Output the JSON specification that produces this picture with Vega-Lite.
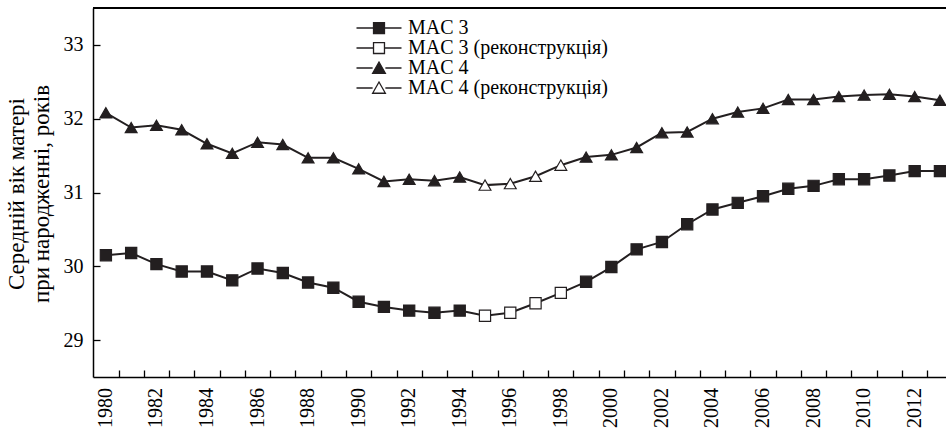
{
  "$schema": "https://vega.github.io/schema/vega-lite/v6.json",
  "width": 853,
  "height": 369,
  "autosize": "none",
  "padding": {"left": 93, "top": 8, "right": 0, "bottom": 55},
  "background": "white",
  "config": {
    "view": {"stroke": null},
    "font": "Liberation Serif",
    "axis": {"grid": false, "domainColor": "black", "domainWidth": 1.5, "tickColor": "black", "tickWidth": 1.3, "labelColor": "black", "labelFont": "Liberation Serif", "labelFontSize": 20, "titleFont": "Liberation Serif", "titleColor": "black", "labelOverlap": false, "labelFlush": false, "tickSize": -7},
    "axisY": {"labelPadding": 17}
  },
  "data": {"values": [
    {"year": 1980, "value": 30.15, "series": "MAC 3", "group": "MAC 3"},
    {"year": 1981, "value": 30.18, "series": "MAC 3", "group": "MAC 3"},
    {"year": 1982, "value": 30.03, "series": "MAC 3", "group": "MAC 3"},
    {"year": 1983, "value": 29.93, "series": "MAC 3", "group": "MAC 3"},
    {"year": 1984, "value": 29.93, "series": "MAC 3", "group": "MAC 3"},
    {"year": 1985, "value": 29.81, "series": "MAC 3", "group": "MAC 3"},
    {"year": 1986, "value": 29.97, "series": "MAC 3", "group": "MAC 3"},
    {"year": 1987, "value": 29.91, "series": "MAC 3", "group": "MAC 3"},
    {"year": 1988, "value": 29.78, "series": "MAC 3", "group": "MAC 3"},
    {"year": 1989, "value": 29.71, "series": "MAC 3", "group": "MAC 3"},
    {"year": 1990, "value": 29.52, "series": "MAC 3", "group": "MAC 3"},
    {"year": 1991, "value": 29.45, "series": "MAC 3", "group": "MAC 3"},
    {"year": 1992, "value": 29.40, "series": "MAC 3", "group": "MAC 3"},
    {"year": 1993, "value": 29.37, "series": "MAC 3", "group": "MAC 3"},
    {"year": 1994, "value": 29.40, "series": "MAC 3", "group": "MAC 3"},
    {"year": 1995, "value": 29.33, "series": "MAC 3 (реконструкція)", "group": "MAC 3"},
    {"year": 1996, "value": 29.37, "series": "MAC 3 (реконструкція)", "group": "MAC 3"},
    {"year": 1997, "value": 29.50, "series": "MAC 3 (реконструкція)", "group": "MAC 3"},
    {"year": 1998, "value": 29.64, "series": "MAC 3 (реконструкція)", "group": "MAC 3"},
    {"year": 1999, "value": 29.79, "series": "MAC 3", "group": "MAC 3"},
    {"year": 2000, "value": 29.99, "series": "MAC 3", "group": "MAC 3"},
    {"year": 2001, "value": 30.23, "series": "MAC 3", "group": "MAC 3"},
    {"year": 2002, "value": 30.33, "series": "MAC 3", "group": "MAC 3"},
    {"year": 2003, "value": 30.57, "series": "MAC 3", "group": "MAC 3"},
    {"year": 2004, "value": 30.77, "series": "MAC 3", "group": "MAC 3"},
    {"year": 2005, "value": 30.86, "series": "MAC 3", "group": "MAC 3"},
    {"year": 2006, "value": 30.95, "series": "MAC 3", "group": "MAC 3"},
    {"year": 2007, "value": 31.05, "series": "MAC 3", "group": "MAC 3"},
    {"year": 2008, "value": 31.09, "series": "MAC 3", "group": "MAC 3"},
    {"year": 2009, "value": 31.18, "series": "MAC 3", "group": "MAC 3"},
    {"year": 2010, "value": 31.18, "series": "MAC 3", "group": "MAC 3"},
    {"year": 2011, "value": 31.23, "series": "MAC 3", "group": "MAC 3"},
    {"year": 2012, "value": 31.29, "series": "MAC 3", "group": "MAC 3"},
    {"year": 2013, "value": 31.29, "series": "MAC 3", "group": "MAC 3"},
    {"year": 1980, "value": 32.08, "series": "MAC 4", "group": "MAC 4"},
    {"year": 1981, "value": 31.88, "series": "MAC 4", "group": "MAC 4"},
    {"year": 1982, "value": 31.91, "series": "MAC 4", "group": "MAC 4"},
    {"year": 1983, "value": 31.85, "series": "MAC 4", "group": "MAC 4"},
    {"year": 1984, "value": 31.66, "series": "MAC 4", "group": "MAC 4"},
    {"year": 1985, "value": 31.53, "series": "MAC 4", "group": "MAC 4"},
    {"year": 1986, "value": 31.68, "series": "MAC 4", "group": "MAC 4"},
    {"year": 1987, "value": 31.65, "series": "MAC 4", "group": "MAC 4"},
    {"year": 1988, "value": 31.47, "series": "MAC 4", "group": "MAC 4"},
    {"year": 1989, "value": 31.47, "series": "MAC 4", "group": "MAC 4"},
    {"year": 1990, "value": 31.32, "series": "MAC 4", "group": "MAC 4"},
    {"year": 1991, "value": 31.15, "series": "MAC 4", "group": "MAC 4"},
    {"year": 1992, "value": 31.18, "series": "MAC 4", "group": "MAC 4"},
    {"year": 1993, "value": 31.16, "series": "MAC 4", "group": "MAC 4"},
    {"year": 1994, "value": 31.21, "series": "MAC 4", "group": "MAC 4"},
    {"year": 1995, "value": 31.10, "series": "MAC 4 (реконструкція)", "group": "MAC 4"},
    {"year": 1996, "value": 31.12, "series": "MAC 4 (реконструкція)", "group": "MAC 4"},
    {"year": 1997, "value": 31.22, "series": "MAC 4 (реконструкція)", "group": "MAC 4"},
    {"year": 1998, "value": 31.37, "series": "MAC 4 (реконструкція)", "group": "MAC 4"},
    {"year": 1999, "value": 31.48, "series": "MAC 4", "group": "MAC 4"},
    {"year": 2000, "value": 31.51, "series": "MAC 4", "group": "MAC 4"},
    {"year": 2001, "value": 31.61, "series": "MAC 4", "group": "MAC 4"},
    {"year": 2002, "value": 31.81, "series": "MAC 4", "group": "MAC 4"},
    {"year": 2003, "value": 31.82, "series": "MAC 4", "group": "MAC 4"},
    {"year": 2004, "value": 32.00, "series": "MAC 4", "group": "MAC 4"},
    {"year": 2005, "value": 32.09, "series": "MAC 4", "group": "MAC 4"},
    {"year": 2006, "value": 32.14, "series": "MAC 4", "group": "MAC 4"},
    {"year": 2007, "value": 32.26, "series": "MAC 4", "group": "MAC 4"},
    {"year": 2008, "value": 32.26, "series": "MAC 4", "group": "MAC 4"},
    {"year": 2009, "value": 32.30, "series": "MAC 4", "group": "MAC 4"},
    {"year": 2010, "value": 32.32, "series": "MAC 4", "group": "MAC 4"},
    {"year": 2011, "value": 32.33, "series": "MAC 4", "group": "MAC 4"},
    {"year": 2012, "value": 32.30, "series": "MAC 4", "group": "MAC 4"},
    {"year": 2013, "value": 32.25, "series": "MAC 4", "group": "MAC 4"}
  ]},
  "encoding": {
    "x": {
      "field": "year", "type": "quantitative",
      "scale": {"domain": [1979.49, 2013.24], "nice": false, "zero": false},
      "axis": {
        "title": null,
        "values": [1980.5, 1981.5, 1982.5, 1983.5, 1984.5, 1985.5, 1986.5, 1987.5, 1988.5, 1989.5, 1990.5, 1991.5, 1992.5, 1993.5, 1994.5, 1995.5, 1996.5, 1997.5, 1998.5, 1999.5, 2000.5, 2001.5, 2002.5, 2003.5, 2004.5, 2005.5, 2006.5, 2007.5, 2008.5, 2009.5, 2010.5, 2011.5, 2012.5],
        "labels": false
      }
    },
    "y": {
      "field": "value", "type": "quantitative",
      "scale": {"domain": [28.5, 33.5], "nice": false, "zero": false},
      "axis": {
        "title": ["Середній вік матері", "при народженні, років"],
        "titleFontSize": 23,
        "titleFontWeight": "normal",
        "titleLineHeight": 25,
        "titleAngle": -90,
        "titleAlign": "center",
        "titleBaseline": "middle",
        "titleX": -77,
        "titleY": 185.5,
        "values": [29, 29.5, 30, 30.5, 31, 31.5, 32, 32.5, 33],
        "format": "d",
        "labelExpr": "datum.value % 1 === 0 ? datum.label : ''"
      }
    }
  },
  "layer": [
    {
      "mark": {"type": "rule", "color": "black", "strokeWidth": 1.5},
      "encoding": {"y": {"datum": 33.5}, "x": null}
    },
    {
      "mark": {"type": "line", "color": "#231f20", "strokeWidth": 2},
      "encoding": {"detail": {"field": "group", "type": "nominal"}}
    },
    {
      "transform": [{"filter": "datum.series === 'MAC 3'"}],
      "mark": {"type": "point", "shape": "square", "filled": true, "fill": "#231f20", "stroke": "#231f20", "strokeWidth": 1.2, "size": 125, "opacity": 1}
    },
    {
      "transform": [{"filter": "datum.series === 'MAC 3 (реконструкція)'"}],
      "mark": {"type": "point", "shape": "square", "filled": true, "fill": "white", "stroke": "#231f20", "strokeWidth": 1.2, "size": 125, "opacity": 1}
    },
    {
      "transform": [{"filter": "datum.series === 'MAC 4'"}],
      "mark": {"type": "point", "shape": "triangle-up", "filled": true, "fill": "#231f20", "stroke": "#231f20", "strokeWidth": 1.2, "size": 140, "opacity": 1}
    },
    {
      "transform": [{"filter": "datum.series === 'MAC 4 (реконструкція)'"}],
      "mark": {"type": "point", "shape": "triangle-up", "filled": true, "fill": "white", "stroke": "#231f20", "strokeWidth": 1.2, "size": 140, "opacity": 1}
    },
    {
      "transform": [{"filter": "datum.group === 'MAC 3' && datum.year % 2 === 0"}],
      "mark": {"type": "text", "angle": -90, "align": "right", "baseline": "middle", "dx": -11, "font": "Liberation Serif", "fontSize": 20, "color": "black"},
      "encoding": {
        "y": {"datum": 28.5},
        "text": {"field": "year", "type": "quantitative", "format": "d"}
      }
    },
    {
      "transform": [{"filter": "datum.year < 0"}],
      "mark": {"type": "point", "filled": true, "color": "#231f20", "opacity": 1},
      "encoding": {
        "shape": {
          "field": "series", "type": "nominal",
          "scale": {"domain": ["MAC 3", "MAC 3 (реконструкція)", "MAC 4", "MAC 4 (реконструкція)"], "range": ["M-3,0H-0.73M0.73,0H3M-0.73,-0.73H0.73V0.73H-0.73Z", "M-3,0H-0.73M0.73,0H3M-0.73,-0.73H0.73V0.73H-0.73Z", "M-3,0H-0.85M0.85,0H3M0,-0.8L0.85,0.7L-0.85,0.7Z", "M-3,0H-0.85M0.85,0H3M0,-0.8L0.85,0.7L-0.85,0.7Z"]},
          "legend": {
            "title": null,
            "orient": "none",
            "legendX": 276,
            "legendY": 10,
            "padding": 0,
            "labelFont": "Liberation Serif",
            "labelFontSize": 20,
            "labelColor": "black",
            "labelOffset": 19,
            "labelLimit": 500,
            "symbolSize": 225,
            "symbolStrokeColor": "#231f20",
            "symbolStrokeWidth": 1.3,
            "symbolOpacity": 1,
            "rowPadding": -8,
            "encoding": {
              "symbols": {
                "fill": {"condition": {"test": "indexof(datum.value, 'реконструкція') >= 0", "value": "white"}, "value": "#231f20"},
                "stroke": {"value": "#231f20"},
                "strokeWidth": {"value": 1.3},
                "opacity": {"value": 1}
              }
            }
          }
        }
      }
    }
  ]
}
